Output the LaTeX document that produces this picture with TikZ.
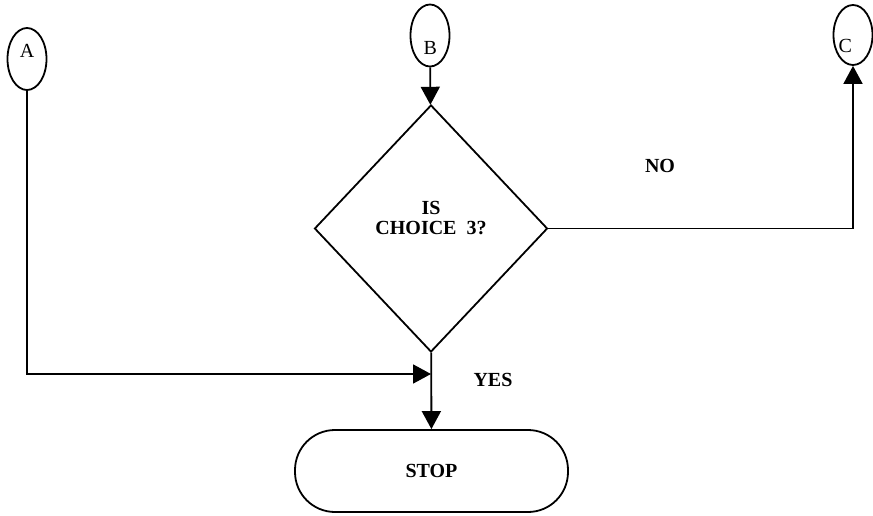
\documentclass[tikz,border=0pt]{standalone}
\usepackage{fontspec}
\setmainfont{Liberation Serif}
\usetikzlibrary{arrows.meta,shapes.geometric}
\def\LineWidth{1.8}
\def\TipLength{18}
\def\TipWidth{19}
% letter placed off the centre of its connector: x offset, raise, letter
\def\Letter#1#2#3{\raisebox{#2}[0pt][0pt]{\makebox[0pt][l]{\hspace*{#1}#3}}}
\tikzset{
  box/.style={draw, line width=\LineWidth pt, font=\fontsize{20}{22}\selectfont},
  connector/.style={box, ellipse, inner sep=0pt, minimum width=39pt, minimum height=62pt},
  decision/.style={box, diamond, inner sep=0pt, minimum width=233pt, minimum height=247pt},
  terminal/.style={box, rectangle, rounded corners=40pt, minimum width=273pt, minimum height=82pt},
  flow/.style={line width=\LineWidth pt, -{Triangle[length=\TipLength pt,width=\TipWidth pt]}},
  caption/.style={font=\fontsize{20}{20}\bfseries, align=center}
}

\begin{document}
\begin{tikzpicture}[x=1pt,y=-1pt]
  \useasboundingbox (0,0) rectangle (873,516);
  % off-page connectors
  \node[connector] (A) at (27,59) {\Letter{-7pt}{1.5pt}{A}};
  \node[connector] (B) at (430,35.5) {\Letter{-6.5pt}{-19pt}{B}};
  \node[connector, minimum height=60pt] (C) at (853,35) {\Letter{-14.5pt}{-17.5pt}{C}};
  % decision and end
  \node[decision] (choice) at (431,228.5) {};
  \node[caption] (question) at ([yshift=10pt]choice.center) {IS\\CHOICE\ \ 3?};
  \node[terminal, font=\fontsize{20}{22}\bfseries] (stop) at (431.5,471) {STOP};
  \coordinate (merge) at (431,374);
  % flow lines
  \draw[flow] (B) -- (choice);
  \draw[flow] (choice.east) -| (C);
  \draw[flow] (A) |- (merge);
  \draw[flow] (choice) -- (stop);
  % branch labels
  \node[caption] (no) at (660,166) {NO};
  \node[caption] (yes) at (493,380) {YES};
\end{tikzpicture}
\end{document}
